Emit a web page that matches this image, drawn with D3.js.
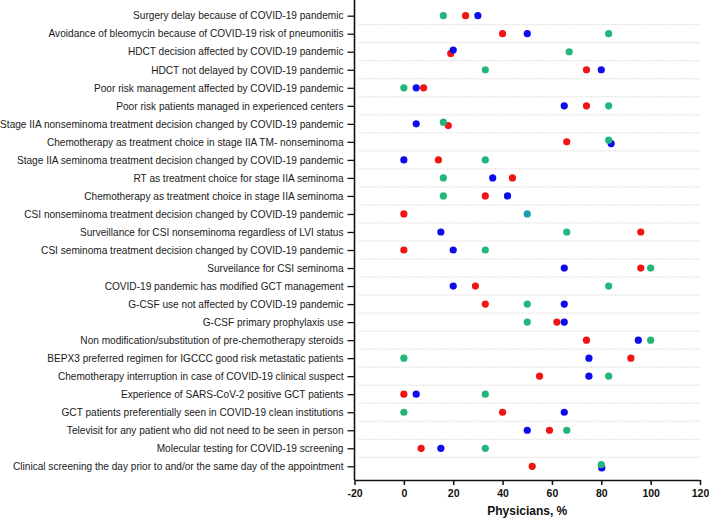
<!DOCTYPE html>
<html><head><meta charset="utf-8">
<script src="https://cdn.jsdelivr.net/npm/d3@7/dist/d3.min.js"></script>
<style>body{margin:0;background:#fff}svg{display:block}</style>
</head><body><svg id="c" width="709" height="518"></svg>
<script>
const categories = [
"Surgery delay because of COVID-19 pandemic",
"Avoidance of bleomycin because of COVID-19 risk of pneumonitis",
"HDCT decision affected by COVID-19 pandemic",
"HDCT not delayed by COVID-19 pandemic",
"Poor risk management affected by COVID-19 pandemic",
"Poor risk patients managed in experienced centers",
"Stage IIA nonseminoma treatment decision changed by COVID-19 pandemic",
"Chemotherapy as treatment choice in stage IIA TM- nonseminoma",
"Stage IIA seminoma treatment decision changed by COVID-19 pandemic",
"RT as treatment choice for stage IIA seminoma",
"Chemotherapy as treatment choice in stage IIA seminoma",
"CSI nonseminoma treatment decision changed by COVID-19 pandemic",
"Surveillance for CSI nonseminoma regardless of LVI status",
"CSI seminoma treatment decision changed by COVID-19 pandemic",
"Surveilance for CSI seminoma",
"COVID-19 pandemic has modified GCT management",
"G-CSF use not affected by COVID-19 pandemic",
"G-CSF primary prophylaxis use ",
"Non modification/substitution of pre-chemotherapy steroids",
"BEPX3 preferred regimen for IGCCC good risk metastatic patients",
"Chemotherapy interruption in case of COVID-19 clinical suspect",
"Experience of SARS-CoV-2 positive GCT patients",
"GCT patients preferentially seen in COVID-19 clean institutions",
"Televisit for any patient who did not need to be seen in person",
"Molecular testing for COVID-19 screening",
"Clinical screening the day prior to and/or the same day of the appointment"
];
const greenValues = [16,83,67,33,0,83,16,83,33,16,16,50,66,33,100,83,50,50,100,0,83,33,0,66,33,80];
const blueValues  = [30,50,20,80,5,65,5,84,0,36,42,50,15,20,65,20,65,65,95,75,75,5,65,50,15,80.2];
const redValues   = [25,40,19,74,8,74,18,66,14,44,33,0,96,0,96,29,33,62,74,92,55,0,40,59,7,52];
const xTicks = [-20,0,20,40,60,80,100,120];
const xTitle = "Physicians, %";

const series = [
  {name:"green", values:greenValues, color:"#22b67a", rank:0},
  {name:"blue",  values:blueValues,  color:"#0c0cec", rank:1},
  {name:"red",   values:redValues,   color:"#f01414", rank:2}
];

const svg = d3.select("#c");
const x = d3.scaleLinear().domain([-20,120]).range([354.5,700]);
const y = d3.scalePoint().domain(categories).range([15.7,466.3]);
const axisY = 480;
const font = "Liberation Sans, Arial, sans-serif";

// gridlines between rows
const mids = categories.slice(0,-1).map((c,i)=> (y(c)+y(categories[i+1]))/2);
svg.append("g").selectAll("line").data(mids).join("line")
  .attr("x1",358).attr("x2",700).attr("y1",d=>d).attr("y2",d=>d)
  .attr("stroke","#d4d4d4").attr("stroke-width",1).attr("stroke-dasharray","1.2,1.2");

// y axis
const yAxis = svg.append("g").attr("transform","translate(354.5,0)")
  .call(d3.axisLeft(y).tickSize(7).tickPadding(4));
yAxis.select(".domain").remove();
yAxis.selectAll(".tick line").attr("stroke","#111").attr("stroke-width",1.3);
yAxis.selectAll(".tick text").attr("font-family",font)
  .attr("font-size","10.1px").attr("fill","#1a1a1a");
svg.append("line").attr("x1",354.5).attr("x2",354.5).attr("y1",0).attr("y2",axisY)
  .attr("stroke","#111").attr("stroke-width",1.6);

// x axis
const xAxis = svg.append("g").attr("transform",`translate(0,${axisY})`)
  .call(d3.axisBottom(x).tickValues(xTicks).tickSize(5).tickSizeOuter(0).tickPadding(5).tickFormat(d=>String(d)));
xAxis.select(".domain").attr("stroke","#111").attr("stroke-width",1.6);
xAxis.selectAll(".tick line").attr("stroke","#111").attr("stroke-width",1.5);
xAxis.selectAll(".tick text").attr("font-family",font)
  .attr("font-size","10.5px").attr("font-weight","bold").attr("fill","#111");

svg.append("text").attr("x",(x(-20)+x(120))/2).attr("y",515).attr("text-anchor","middle")
  .attr("font-family",font).attr("font-size","12px")
  .attr("font-weight","bold").attr("fill","#111").text(xTitle);

// points with dodge for near-overlaps
const pts = [];
categories.forEach((c,i)=>{
  series.forEach(s=>{
    const v = s.values[i];
    let dy = 0, color = s.color, skip = false;
    series.forEach(o=>{
      if(o===s) return;
      const ov = o.values[i];
      const diff = Math.abs(ov - v);
      if(diff===0){
        if(o.rank < s.rank) skip = true;
        else color = "#1c9bb2"; // coincident green+blue rendered as blended teal
      } else if(diff <= 2.5){
        dy = s.rank < o.rank ? -1.7 : 1.7;
      }
    });
    if(!skip) pts.push({cat:c, v, dy, color, rank:s.rank});
  });
});
pts.sort((a,b)=>b.rank-a.rank);
svg.append("g").selectAll("circle").data(pts).join("circle")
  .attr("cx",d=>x(d.v)).attr("cy",d=>y(d.cat)+d.dy).attr("r",3.6)
  .attr("fill",d=>d.color);
</script></body></html>
